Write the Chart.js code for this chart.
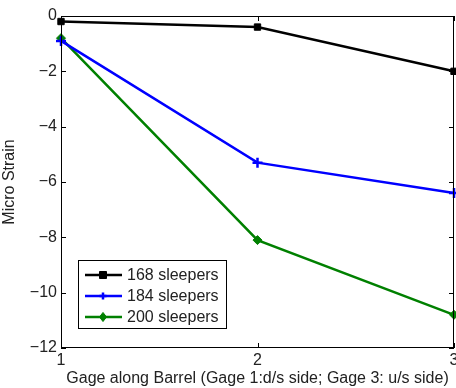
<!DOCTYPE html>
<html>
<head>
<meta charset="utf-8">
<script src="https://cdn.jsdelivr.net/npm/chart.js@4.4.1/dist/chart.umd.min.js"></script>
<style>
  html, body { margin: 0; padding: 0; background: #fff; overflow: hidden; }
  #wrap { position: absolute; left: 0; top: 0; width: 470px; height: 388px; }
</style>
</head>
<body>
<div id="wrap"><canvas id="chart" width="470" height="388"></canvas></div>
<script>
const gages = [1, 2, 3];
const seriesNames = ["168 sleepers", "184 sleepers", "200 sleepers"];
const strain168 = [-0.2, -0.4, -2.0];
const strain184 = [-0.9, -5.3, -6.4];
const strain200 = [-0.8, -8.1, -10.8];
const yTicks = [0, -2, -4, -6, -8, -10, -12];

const font = { family: "Liberation Sans, Arial, sans-serif", size: 16 };
const titleFont = { family: "Liberation Sans, Arial, sans-serif", size: 16 };

function pts(vals) {
  return gages.map((g, i) => ({ x: g, y: vals[i] }));
}

// MATLAB-like box with inward ticks
const boxPlugin = {
  id: "box",
  afterDraw(chart) {
    const { ctx, chartArea: a, scales } = chart;
    ctx.save();
    ctx.strokeStyle = "#000";
    ctx.lineWidth = 1;
    ctx.strokeRect(a.left + 0.5, a.top + 0.5, a.right - a.left - 1, a.bottom - a.top - 1);
    ctx.beginPath();
    yTicks.forEach(v => {
      const y = Math.round(scales.y.getPixelForValue(v)) + 0.5;
      ctx.moveTo(a.left, y); ctx.lineTo(a.left + 5, y);
      ctx.moveTo(a.right, y); ctx.lineTo(a.right - 5, y);
    });
    gages.forEach(v => {
      const x = Math.round(scales.x.getPixelForValue(v)) + 0.5;
      ctx.moveTo(x, a.bottom); ctx.lineTo(x, a.bottom - 5);
      ctx.moveTo(x, a.top); ctx.lineTo(x, a.top + 5);
    });
    ctx.stroke();
    ctx.restore();
  }
};

function drawMarker(ctx, style, x, y, r) {
  ctx.beginPath();
  if (style === "rect") {
    ctx.rect(x - r, y - r, 2 * r, 2 * r); ctx.fill(); ctx.stroke();
  } else if (style === "rectRot") {
    ctx.moveTo(x, y - r * 1.3); ctx.lineTo(x + r, y); ctx.lineTo(x, y + r * 1.3); ctx.lineTo(x - r, y);
    ctx.closePath(); ctx.fill(); ctx.stroke();
  } else {
    ctx.moveTo(x - r, y); ctx.lineTo(x + r, y); ctx.moveTo(x, y - r); ctx.lineTo(x, y + r); ctx.stroke();
  }
}

// legend inside the plot, lower left
const legendPlugin = {
  id: "inlegend",
  afterDraw(chart) {
    const { ctx } = chart;
    const bx = 78, by = 260, bw = 148, bh = 68;
    ctx.save();
    ctx.fillStyle = "#fff";
    ctx.fillRect(bx, by, bw, bh);
    ctx.strokeStyle = "#000";
    ctx.lineWidth = 1;
    ctx.strokeRect(bx + 0.5, by + 0.5, bw, bh);
    ctx.font = font.size + "px " + font.family;
    ctx.textBaseline = "middle";
    chart.data.datasets.forEach((ds, i) => {
      const y = by + 15 + i * 21;
      ctx.strokeStyle = ds.borderColor;
      ctx.lineWidth = 2.5;
      ctx.beginPath();
      ctx.moveTo(bx + 7, y); ctx.lineTo(bx + 44, y);
      ctx.stroke();
      ctx.fillStyle = ds.pointBackgroundColor;
      ctx.lineWidth = ds.pointStyle === "cross" ? 2.5 : 1;
      drawMarker(ctx, ds.pointStyle, bx + 25, y, 3.5);
      ctx.fillStyle = "#222";
      ctx.fillText(ds.label, bx + 49, y + 1);
    });
    ctx.restore();
  }
};

new Chart(document.getElementById("chart"), {
  type: "scatter",
  data: {
    datasets: [
      { label: seriesNames[0], data: pts(strain168), borderColor: "#000", pointBackgroundColor: "#000",
        pointStyle: "rect", pointRadius: 4.5 },
      { label: seriesNames[1], data: pts(strain184), borderColor: "#0000ff", pointBackgroundColor: "#0000ff",
        pointStyle: "cross", pointRadius: 5 },
      { label: seriesNames[2], data: pts(strain200), borderColor: "#008000", pointBackgroundColor: "#008000",
        pointStyle: "rectRot", pointRadius: 4.5 }
    ].map(d => Object.assign(d, { showLine: true, borderWidth: 2.5, pointBorderColor: d.borderColor,
      pointBorderWidth: d.pointStyle === "cross" ? 2.5 : 1, pointHoverRadius: d.pointRadius, clip: false }))
  },
  options: {
    responsive: false,
    animation: false,
    layout: { padding: { left: 0, top: 16, right: 16, bottom: 0 } },
    plugins: { legend: { display: false }, tooltip: { enabled: false } },
    scales: {
      x: {
        type: "linear", min: 1, max: 3,
        afterFit(s) { s.height = 40; },
        afterBuildTicks(s) { s.ticks = gages.map(v => ({ value: v })); },
        grid: { display: false, drawTicks: false },
        border: { display: false },
        ticks: { font, color: "#222", padding: 3, maxRotation: 0 },
        title: { display: true, text: "Gage along Barrel (Gage 1:d/s side; Gage 3: u/s side)",
          font: titleFont, color: "#222", padding: { top: 0, bottom: 0 } }
      },
      y: {
        min: -12, max: 0,
        afterFit(s) { s.width = 61; },
        afterBuildTicks(s) { s.ticks = yTicks.map(v => ({ value: v })); },
        grid: { display: false, drawTicks: false },
        border: { display: false },
        ticks: { font, color: "#222", padding: 4,
          callback: v => (v < 0 ? "\u2212" + Math.abs(v) : String(v)) },
        title: { display: true, text: "Micro Strain", font: titleFont, color: "#222", padding: { top: 0, bottom: 0 } }
      }
    }
  },
  plugins: [boxPlugin, legendPlugin]
});
</script>
</body>
</html>
